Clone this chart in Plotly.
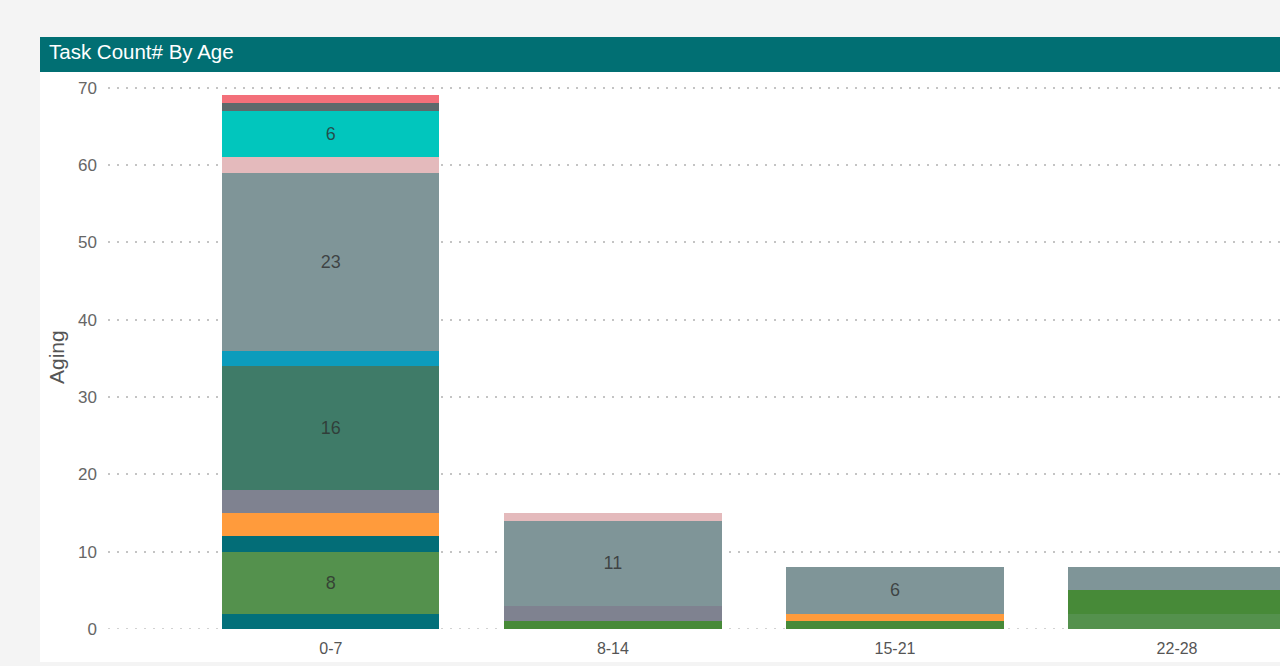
import plotly.graph_objects as go

categories = ["0-7", "8-14", "15-21", "22-28"]

series_names = ["S1", "S2", "S3", "S4", "S5", "S6", "S7", "S8", "S9", "S10", "S11", "S12", "S13"]
series_values = [
    [2, 0, 0, 0],    # S1 teal
    [8, 0, 0, 2],    # S2 light green
    [0, 1, 1, 3],    # S3 green
    [2, 0, 0, 0],    # S4 dark teal
    [3, 0, 1, 0],    # S5 orange
    [3, 2, 0, 0],    # S6 gray-purple
    [16, 0, 0, 0],   # S7 dark green
    [2, 0, 0, 0],    # S8 blue
    [23, 11, 6, 3],  # S9 gray-teal
    [2, 1, 0, 0],    # S10 pink
    [6, 0, 0, 0],    # S11 cyan
    [1, 0, 0, 0],    # S12 dark gray
    [1, 0, 0, 0],    # S13 red
]
series_colors = ["#03707A", "#54914D", "#478A38", "#036D77", "#FF9B3C", "#7F8290",
                 "#3F7B68", "#0C9CBC", "#7F9598", "#E4BABC", "#01C6BD", "#5E696B", "#F3707A"]

y_ticks = [0, 10, 20, 30, 40, 50, 60, 70]

FONT = "Liberation Sans"

fig = go.Figure()
for name, vals, col in zip(series_names, series_values, series_colors):
    fig.add_trace(go.Bar(
        name=name, x=categories, y=vals,
        marker=dict(color=col, line=dict(width=0)),
        text=[str(v) if v >= 6 else "" for v in vals],
        textposition="inside", insidetextanchor="middle", textangle=0,
        textfont=dict(family=FONT, size=18, color="rgba(45,45,45,0.78)"),
        hoverinfo="x+y+name",
    ))

L, T, B = 108, 80, 37
W, H = 1280, 666
pw = W - L
ph = H - T - B

def fx(px):
    return (px - L) / pw

def fy(py):
    return (H - B - py) / ph

fig.update_layout(
    width=W, height=H,
    barmode="stack", bargap=0.23,
    showlegend=False,
    margin=dict(l=L, r=0, t=T, b=B, pad=0),
    paper_bgcolor="#F4F4F4",
    plot_bgcolor="white",
    font=dict(family=FONT, color="#666666"),
    xaxis=dict(
        range=[-0.79, 3.365], showgrid=False, zeroline=False, showline=False,
        tickfont=dict(size=16, color="#555555"), ticks="", ticklabelstandoff=8,
        fixedrange=True,
    ),
    yaxis=dict(
        range=[0, 71], tickvals=y_ticks, showgrid=True, gridcolor="#C4C4C4", gridwidth=1.5,
        griddash="2px,7px", zeroline=False, showline=False,
        tickfont=dict(size=17, color="#666666"), ticks="", ticklabelstandoff=10,
        fixedrange=True,
    ),
    shapes=[
        dict(type="rect", xref="paper", yref="paper", x0=fx(40), x1=fx(1290), y0=fy(662), y1=fy(37),
             fillcolor="white", line=dict(width=0), layer="below"),
        dict(type="rect", xref="paper", yref="paper", x0=fx(40), x1=fx(1290), y0=fy(72), y1=fy(37),
             fillcolor="#016F73", line=dict(width=0), layer="below"),
        dict(type="line", xref="paper", yref="y", x0=0, x1=1, y0=0, y1=0,
             line=dict(color="#C4C4C4", width=1.5, dash="2px,7px"), layer="below"),
    ],
    annotations=[
        dict(text="Task Count# By Age", xref="paper", yref="paper", x=fx(47), y=fy(51),
             xanchor="left", yanchor="middle", showarrow=False,
             font=dict(family=FONT, size=20.5, color="white")),
        dict(text="Aging", xref="paper", yref="paper", x=fx(56), y=fy(357),
             xanchor="center", yanchor="middle", showarrow=False, textangle=-90,
             font=dict(family=FONT, size=21, color="#555555")),
    ],
)

fig.write_html("out.html")
